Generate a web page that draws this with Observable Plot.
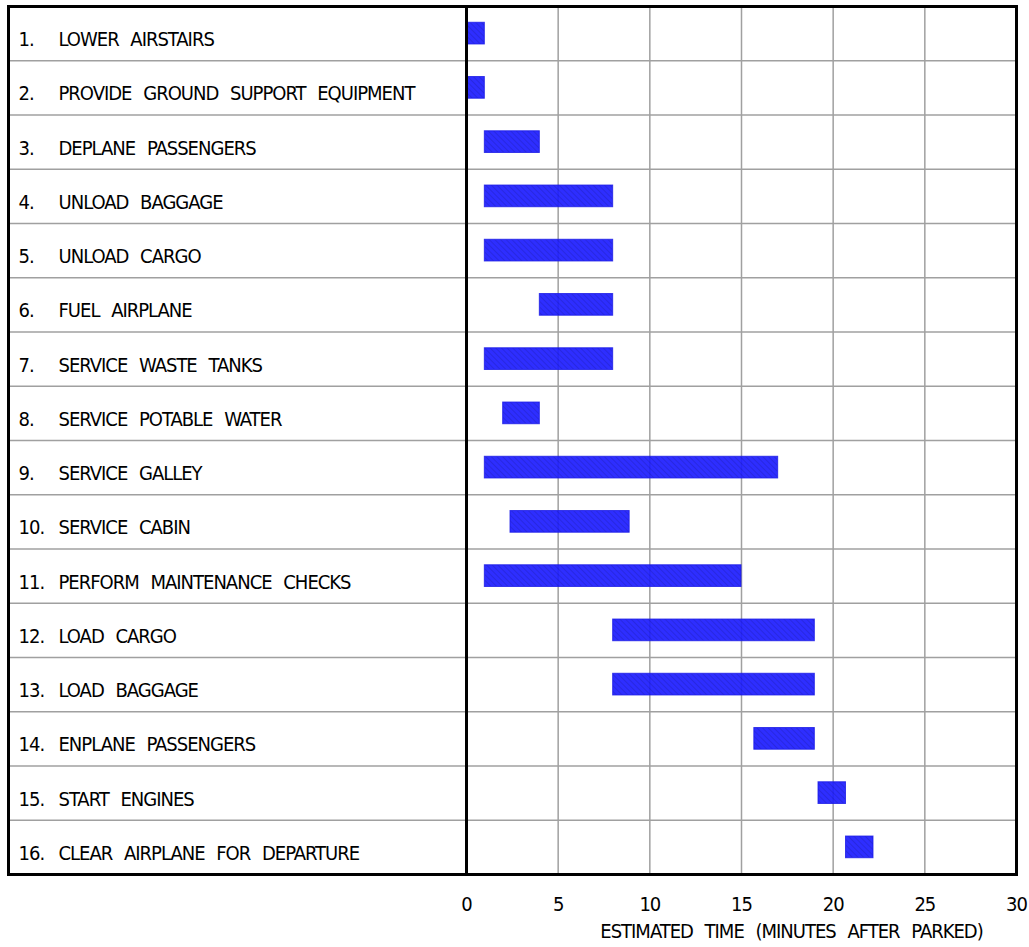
<!DOCTYPE html>
<html>
<head>
<meta charset="utf-8">
<script src="https://cdn.jsdelivr.net/npm/d3@7"></script>
<script src="https://cdn.jsdelivr.net/npm/@observablehq/plot@0.6"></script>
<style>
  html, body { margin: 0; padding: 0; background: #fff; }
  #chart svg text { word-spacing: 7px; letter-spacing: -1px; }
</style>
</head>
<body>
<div id="chart"></div>
<script>
const taskNumbers = ["1.", "2.", "3.", "4.", "5.", "6.", "7.", "8.", "9.", "10.", "11.", "12.", "13.", "14.", "15.", "16."];
const taskNames = [
  "LOWER AIRSTAIRS",
  "PROVIDE GROUND SUPPORT EQUIPMENT",
  "DEPLANE PASSENGERS",
  "UNLOAD BAGGAGE",
  "UNLOAD CARGO",
  "FUEL AIRPLANE",
  "SERVICE WASTE TANKS",
  "SERVICE POTABLE WATER",
  "SERVICE GALLEY",
  "SERVICE CABIN",
  "PERFORM MAINTENANCE CHECKS",
  "LOAD CARGO",
  "LOAD BAGGAGE",
  "ENPLANE PASSENGERS",
  "START ENGINES",
  "CLEAR AIRPLANE FOR DEPARTURE"
];
const startMinutes = [0, 0, 1, 1, 1, 4, 1, 2, 1, 2.4, 1, 8, 8, 15.7, 19.2, 20.7];
const endMinutes   = [1, 1, 4, 8, 8, 8, 8, 4, 17, 8.9, 15, 19, 19, 19, 20.7, 22.2];
const xTicks = [0, 5, 10, 15, 20, 25, 30];
const xLabel = "ESTIMATED TIME (MINUTES AFTER PARKED)";

const rows = taskNames.map((name, i) => ({
  row: i + 1,
  num: taskNumbers[i],
  name,
  start: startMinutes[i],
  end: endMinutes[i]
}));
const separators = rows.slice(0, -1).map(d => d.row + 0.5);

const FONT = "'DejaVu Sans Condensed', 'Liberation Sans Narrow', 'Liberation Sans', sans-serif";

const plot = Plot.plot({
  width: 1029,
  height: 947,
  marginLeft: 466,
  marginRight: 13,
  marginTop: 6,
  marginBottom: 73,
  style: {fontFamily: FONT, fontSize: "20px", color: "#000", background: "#fff"},
  x: {domain: [0, 30], ticks: xTicks, label: null},
  y: {domain: [0.5, 16.5], reverse: true, axis: null},
  marks: [
    Plot.ruleX(xTicks.slice(1, -1), {stroke: "#a0a0a0", strokeWidth: 1.5}),
    Plot.ruleY(separators, {stroke: "#a0a0a0", strokeWidth: 1.5, insetLeft: -458}),
    Plot.rect(rows, {
      x1: "start", x2: "end",
      y1: d => d.row - 0.2, y2: d => d.row + 0.2,
      fill: "url(#hatch)", fillOpacity: 0.92,
      stroke: "#1a1ae6", strokeWidth: 1, strokeOpacity: 0.8
    }),
    Plot.ruleX([0], {stroke: "#000", strokeWidth: 3}),
    Plot.frame({stroke: "#000", strokeWidth: 3, insetLeft: -458}),
    Plot.text(rows, {
      y: "row", text: "num", frameAnchor: "left", textAnchor: "start",
      dx: -448, dy: 6, fill: "#000"
    }),
    Plot.text(rows, {
      y: "row", text: "name", frameAnchor: "left", textAnchor: "start",
      dx: -408, dy: 6, fill: "#000"
    }),
    Plot.axisX({ticks: xTicks, tickSize: 0, tickPadding: 22, label: null, fontSize: "20px"}),
    Plot.text([xLabel], {frameAnchor: "bottom", dx: 50, dy: 63, fill: "#000"})
  ]
});

// hatch pattern for the bars
const svg = d3.select(plot);
const defs = svg.insert("defs", ":first-child");
const pat = defs.append("pattern")
  .attr("id", "hatch")
  .attr("patternUnits", "userSpaceOnUse")
  .attr("width", 4).attr("height", 4)
  .attr("patternTransform", "rotate(-45)");
pat.append("rect").attr("width", 4).attr("height", 4).attr("fill", "#1c1cff");
pat.append("line").attr("x1", 0).attr("y1", 0).attr("x2", 0).attr("y2", 4)
  .attr("stroke", "#1212cc").attr("stroke-width", 1.3);

document.getElementById("chart").appendChild(plot);
</script>
</body>
</html>
